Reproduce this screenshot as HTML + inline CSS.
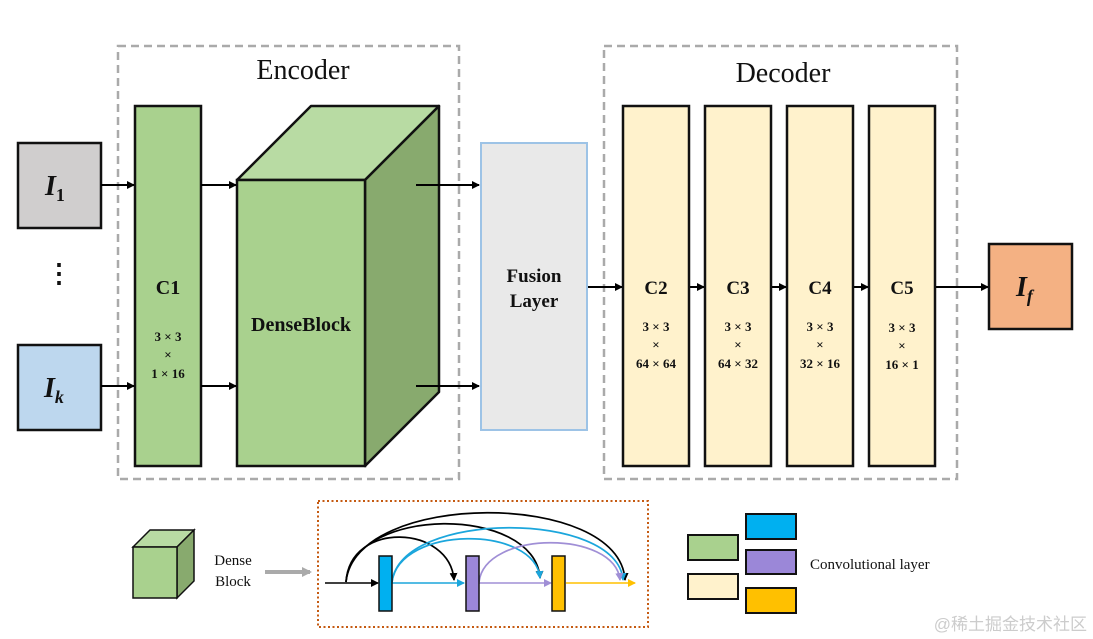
<!DOCTYPE html>
<html><head><meta charset="utf-8"><style>
html,body{margin:0;padding:0;background:#fff;}
svg{display:block;}
text{font-family:"Liberation Serif","Noto Serif CJK SC",serif;fill:#111;}
</style></head><body>
<svg width="1093" height="639" viewBox="0 0 1093 639" xmlns="http://www.w3.org/2000/svg">
<defs>
<marker id="ab" markerWidth="8" markerHeight="8" refX="7" refY="4" orient="auto" markerUnits="userSpaceOnUse"><path d="M0,0 L8,4 L0,8 z" fill="#000"/></marker>
<marker id="ac" markerWidth="8" markerHeight="8" refX="7" refY="4" orient="auto" markerUnits="userSpaceOnUse"><path d="M0,0 L8,4 L0,8 z" fill="#1ba6dc"/></marker>
<marker id="ap" markerWidth="8" markerHeight="8" refX="7" refY="4" orient="auto" markerUnits="userSpaceOnUse"><path d="M0,0 L8,4 L0,8 z" fill="#a08fd6"/></marker>
<marker id="ay" markerWidth="8" markerHeight="8" refX="7" refY="4" orient="auto" markerUnits="userSpaceOnUse"><path d="M0,0 L8,4 L0,8 z" fill="#ffc000"/></marker>
<marker id="ag" markerWidth="10" markerHeight="10" refX="8" refY="5" orient="auto" markerUnits="userSpaceOnUse"><path d="M0,0 L10,5 L0,10 z" fill="#aaa"/></marker>
</defs>

<rect x="118" y="46" width="341" height="433" fill="none" stroke="#aaa" stroke-width="2.5" stroke-dasharray="8,5"/>
<rect x="604" y="46" width="353" height="433" fill="none" stroke="#aaa" stroke-width="2.5" stroke-dasharray="8,5"/>
<text x="303" y="79" font-size="28" text-anchor="middle">Encoder</text>
<text x="783" y="82" font-size="28" text-anchor="middle">Decoder</text>

<rect x="18" y="143" width="83" height="85" fill="#d0cece" stroke="#111" stroke-width="2.5"/>
<text x="45" y="195" font-size="28" font-weight="bold" font-style="italic">I<tspan font-size="18" font-style="normal" dy="6">1</tspan></text>
<text x="59" y="282" font-size="26" text-anchor="middle" font-weight="bold">⋮</text>
<rect x="18" y="345" width="83" height="85" fill="#bdd7ee" stroke="#111" stroke-width="2.5"/>
<text x="44" y="397" font-size="28" font-weight="bold" font-style="italic">I<tspan font-size="18" dy="6">k</tspan></text>

<rect x="135" y="106" width="66" height="360" fill="#a9d18e" stroke="#111" stroke-width="2.5"/>
<text x="168" y="294" font-size="20" font-weight="bold" text-anchor="middle">C1</text>
<text x="168" y="341" font-size="13" font-weight="bold" text-anchor="middle">3 × 3</text>
<text x="168" y="359" font-size="13" font-weight="bold" text-anchor="middle">×</text>
<text x="168" y="378" font-size="13" font-weight="bold" text-anchor="middle">1 × 16</text>

<polygon points="237,180 311,106 439,106 365,180" fill="#b8dba3" stroke="#111" stroke-width="2.5" stroke-linejoin="round"/>
<polygon points="365,180 439,106 439,392 365,466" fill="#88aa6e" stroke="#111" stroke-width="2.5" stroke-linejoin="round"/>
<rect x="237" y="180" width="128" height="286" fill="#a9d18e" stroke="#111" stroke-width="2.5"/>
<text x="301" y="331" font-size="20" font-weight="bold" text-anchor="middle">DenseBlock</text>

<g stroke="#000" stroke-width="2" marker-end="url(#ab)">
<line x1="101" y1="185" x2="134" y2="185"/>
<line x1="101" y1="386" x2="134" y2="386"/>
<line x1="201" y1="185" x2="236" y2="185"/>
<line x1="201" y1="386" x2="236" y2="386"/>
<line x1="416" y1="185" x2="479" y2="185"/>
<line x1="416" y1="386" x2="479" y2="386"/>
<line x1="587" y1="287" x2="622" y2="287"/>
<line x1="689" y1="287" x2="704" y2="287"/>
<line x1="771" y1="287" x2="786" y2="287"/>
<line x1="853" y1="287" x2="868" y2="287"/>
<line x1="935" y1="287" x2="988" y2="287"/>
</g>

<rect x="481" y="143" width="106" height="287" fill="#e9e9e9" stroke="#9dc3e6" stroke-width="2"/>
<text x="534" y="282" font-size="19" font-weight="bold" text-anchor="middle">Fusion</text>
<text x="534" y="307" font-size="19" font-weight="bold" text-anchor="middle">Layer</text>

<g fill="#fff2cc" stroke="#111" stroke-width="2.5">
<rect x="623" y="106" width="66" height="360"/>
<rect x="705" y="106" width="66" height="360"/>
<rect x="787" y="106" width="66" height="360"/>
<rect x="869" y="106" width="66" height="360"/>
</g>
<g font-size="19" font-weight="bold" text-anchor="middle">
<text x="656" y="294">C2</text><text x="738" y="294">C3</text><text x="820" y="294">C4</text><text x="902" y="294">C5</text>
</g>
<g font-size="13" font-weight="bold" text-anchor="middle">
<text x="656" y="331">3 × 3</text><text x="656" y="349">×</text><text x="656" y="368">64 × 64</text>
<text x="738" y="331">3 × 3</text><text x="738" y="349">×</text><text x="738" y="368">64 × 32</text>
<text x="820" y="331">3 × 3</text><text x="820" y="349">×</text><text x="820" y="368">32 × 16</text>
<text x="902" y="332">3 × 3</text><text x="902" y="350">×</text><text x="902" y="369">16 × 1</text>
</g>

<rect x="989" y="244" width="83" height="85" fill="#f4b183" stroke="#111" stroke-width="2.5"/>
<text x="1016" y="296" font-size="28" font-weight="bold" font-style="italic">I<tspan font-size="18" dy="6">f</tspan></text>

<polygon points="133,547 150,530 194,530 177,547" fill="#b8dba3" stroke="#111" stroke-width="1.5"/>
<polygon points="177,547 194,530 194,581 177,598" fill="#88aa6e" stroke="#111" stroke-width="1.5"/>
<rect x="133" y="547" width="44" height="51" fill="#a9d18e" stroke="#111" stroke-width="1.5"/>
<text x="233" y="565" font-size="15" text-anchor="middle">Dense</text>
<text x="233" y="586" font-size="15" text-anchor="middle">Block</text>
<line x1="265" y1="572" x2="310" y2="572" stroke="#aaa" stroke-width="4" marker-end="url(#ag)"/>

<rect x="318" y="501" width="330" height="126" fill="none" stroke="#c55a11" stroke-width="2" stroke-dasharray="2,2.5"/>
<line x1="325" y1="583" x2="378" y2="583" stroke="#000" stroke-width="1.5" marker-end="url(#ab)"/>
<line x1="392" y1="583" x2="464" y2="583" stroke="#1ba6dc" stroke-width="1.5" marker-end="url(#ac)"/>
<line x1="479" y1="583" x2="551" y2="583" stroke="#a08fd6" stroke-width="1.5" marker-end="url(#ap)"/>
<line x1="566" y1="583" x2="635" y2="583" stroke="#ffc000" stroke-width="1.5" marker-end="url(#ay)"/>
<g fill="none" stroke-width="1.7">
<path d="M346,582 C350,520 450,525 454,580" stroke="#000" marker-end="url(#ab)"/>
<path d="M346,582 C352,505 535,505 540,578" stroke="#000" marker-end="url(#ab)"/>
<path d="M346,582 C355,490 620,490 625,580" stroke="#000" marker-end="url(#ab)"/>
<path d="M392,582 C400,525 535,525 540,578" stroke="#1ba6dc" marker-end="url(#ac)"/>
<path d="M392,582 C400,510 618,510 623,580" stroke="#1ba6dc" marker-end="url(#ac)"/>
<path d="M479,582 C485,530 615,530 620,580" stroke="#a08fd6" marker-end="url(#ap)"/>
</g>
<rect x="379" y="556" width="13" height="55" fill="#00b0f0" stroke="#111" stroke-width="1.5"/>
<rect x="466" y="556" width="13" height="55" fill="#9b87d8" stroke="#111" stroke-width="1.5"/>
<rect x="552" y="556" width="13" height="55" fill="#ffc000" stroke="#111" stroke-width="1.5"/>

<g stroke="#111" stroke-width="2">
<rect x="688" y="535" width="50" height="25" fill="#a9d18e"/>
<rect x="688" y="574" width="50" height="25" fill="#fff2cc"/>
<rect x="746" y="514" width="50" height="25" fill="#00b0f0"/>
<rect x="746" y="550" width="50" height="24" fill="#9b87d8"/>
<rect x="746" y="588" width="50" height="25" fill="#ffc000"/>
</g>
<text x="810" y="569" font-size="15">Convolutional layer</text>
<text x="1087" y="630" font-size="17" text-anchor="end" style="fill:#ccc;font-family:'Liberation Sans','Noto Sans CJK SC',sans-serif">@稀土掘金技术社区</text>
</svg>
</body></html>
